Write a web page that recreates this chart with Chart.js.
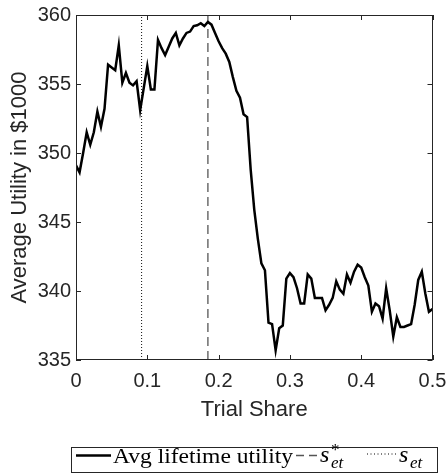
<!DOCTYPE html>
<html><head><meta charset="utf-8">
<script src="https://cdn.jsdelivr.net/npm/chart.js@4"></script>
<style>html,body{margin:0;padding:0;background:#fff;}#wrap{width:446px;height:474px;}</style>
</head><body><div id="wrap"><canvas id="c" width="446" height="474"></canvas></div>
<script>
const trialShare = [0,0.005,0.01,0.015,0.02,0.025,0.03,0.035,0.04,0.045,
 0.05,0.055,0.06,0.065,0.07,0.075,0.08,0.085,0.09,0.095,
 0.1,0.105,0.11,0.115,0.12,0.125,0.13,0.135,0.14,0.145,
 0.15,0.155,0.16,0.165,0.17,0.175,0.18,0.185,0.19,0.195,
 0.2,0.205,0.21,0.215,0.22,0.225,0.23,0.235,0.24,0.245,
 0.25,0.255,0.26,0.265,0.27,0.275,0.28,0.285,0.29,0.295,
 0.3,0.305,0.31,0.315,0.32,0.325,0.33,0.335,0.34,0.345,
 0.35,0.355,0.36,0.365,0.37,0.375,0.38,0.385,0.39,0.395,
 0.4,0.405,0.41,0.415,0.42,0.425,0.43,0.435,0.44,0.445,
 0.45,0.455,0.46,0.465,0.47,0.475,0.48,0.485,0.49,0.495,0.5];
const avgUtility = [349.1,348.6,350.0,351.5,350.6,351.5,353.0,351.9,353.2,356.4,
 356.2,356.0,357.8,355.1,355.8,355.1,354.9,355.2,353.1,354.7,
 356.3,354.6,354.6,358.2,357.6,357.1,357.7,358.3,358.7,357.8,
 358.3,358.7,358.8,359.2,359.25,359.4,359.2,359.5,359.3,358.7,
 358.1,357.6,357.2,356.6,355.5,354.5,354.0,352.8,352.6,348.8,
 345.9,343.8,342.0,341.5,337.7,337.6,335.7,337.3,337.5,340.9,
 341.3,341.0,340.2,339.1,339.1,341.2,340.9,339.5,339.5,339.5,
 338.6,339.0,339.5,340.7,340.1,339.8,341.2,340.6,341.4,341.9,
 341.7,341.0,340.4,338.5,339.1,338.9,338.0,340.2,338.6,336.7,
 338.1,337.4,337.4,337.5,337.6,339.0,340.8,341.4,339.8,338.5,338.7];
const sStarEt = 0.185;
const sEt = 0.092;
const xTickValues = [0,0.1,0.2,0.3,0.4,0.5];
const xTickLabels = ['0','0.1','0.2','0.3','0.4','0.5'];
const yTickValues = [335,340,345,350,355,360];
const yTickLabels = ['335','340','345','350','355','360'];
const xTitle = 'Trial Share';
const yTitle = 'Average Utility in $1000';
const legendMain = 'Avg lifetime utility';

const AX = '#262626';
const mainPts = trialShare.map((x,i)=>({x:x,y:avgUtility[i]}));
const yMin = yTickValues[0], yMax = yTickValues[yTickValues.length-1];

const boxTicks = {
  id:'boxTicks',
  afterDatasetsDraw(chart){
    const {ctx, chartArea:a, scales:{x,y}} = chart;
    ctx.save();
    ctx.strokeStyle = AX; ctx.lineWidth = 1;
    ctx.strokeRect(Math.round(a.left)+0.5, Math.round(a.top)+0.5, Math.round(a.right-a.left)-1, Math.round(a.bottom-a.top)-1);
    const L=5;
    ctx.beginPath();
    xTickValues.forEach(v=>{const p=Math.round(x.getPixelForValue(v))+0.5;
      ctx.moveTo(p,a.bottom); ctx.lineTo(p,a.bottom-L); ctx.moveTo(p,a.top); ctx.lineTo(p,a.top+L);});
    yTickValues.forEach(v=>{const p=Math.round(y.getPixelForValue(v))+0.5;
      ctx.moveTo(a.left,p); ctx.lineTo(a.left+L,p); ctx.moveTo(a.right,p); ctx.lineTo(a.right-L,p);});
    ctx.stroke();
    ctx.restore();
  },
  afterDraw(chart){
    const ctx = chart.ctx;
    ctx.save();
    const bx=71, by=447, bw=366, bh=25;
    ctx.fillStyle='#fff'; ctx.fillRect(bx,by,bw,bh);
    ctx.strokeStyle=AX; ctx.lineWidth=1; ctx.strokeRect(bx+0.5,by+0.5,bw,bh);
    const ly=455.5;
    ctx.strokeStyle='#000'; ctx.lineWidth=2.4;
    ctx.beginPath(); ctx.moveTo(76,ly); ctx.lineTo(111,ly); ctx.stroke();
    ctx.fillStyle='#000'; ctx.textBaseline='alphabetic';
    ctx.font='22px "Liberation Serif"';
    const w = ctx.measureText(legendMain).width;
    ctx.save(); ctx.translate(113,463); ctx.scale(180/w,1); ctx.fillText(legendMain,0,0); ctx.restore();
    ctx.strokeStyle='#555'; ctx.lineWidth=1.3; ctx.setLineDash([8,5]);
    ctx.beginPath(); ctx.moveTo(296,ly); ctx.lineTo(317,ly); ctx.stroke();
    ctx.font='italic 24px "Liberation Serif"';
    ctx.fillText('s',320,462);
    ctx.font='17px "Liberation Serif"';
    ctx.fillText('*',331,455);
    ctx.font='italic 17px "Liberation Serif"';
    ctx.fillText('et',331,468);
    ctx.strokeStyle='#000'; ctx.lineWidth=1; ctx.setLineDash([1,2.5]);
    ctx.beginPath(); ctx.moveTo(367,ly-1.5); ctx.lineTo(396,ly-1.5); ctx.stroke();
    ctx.setLineDash([]);
    ctx.font='italic 24px "Liberation Serif"';
    ctx.fillText('s',399,462);
    ctx.font='italic 17px "Liberation Serif"';
    ctx.fillText('et',410,468);
    ctx.restore();
  }
};

new Chart(document.getElementById('c'), {
  type:'line',
  data:{datasets:[
    {data:mainPts, borderColor:'#000', borderWidth:2.5, pointRadius:0, tension:0, fill:false},
    {data:[{x:sStarEt,y:yMin},{x:sStarEt,y:yMax}], borderColor:'#555', borderWidth:1.3, borderDash:[9,5], pointRadius:0},
    {data:[{x:sEt,y:yMin},{x:sEt,y:yMax}], borderColor:'#111', borderWidth:1, borderDash:[1,2], pointRadius:0}
  ]},
  options:{
    responsive:false, animation:false, devicePixelRatio:1,
    layout:{padding:{left:0,top:15,right:13.5,bottom:51.3}},
    plugins:{legend:{display:false}, tooltip:{enabled:false}},
    scales:{
      x:{type:'linear', min:0, max:0.5,
        afterBuildTicks:s=>{s.ticks = xTickValues.map(v=>({value:v}));},
        afterFit:s=>{s.height=62.7; s.paddingLeft=0; s.paddingRight=0;},
        grid:{display:false, drawTicks:false, tickLength:0}, border:{display:false},
        ticks:{autoSkip:false, maxRotation:0, padding:9, color:AX, font:{family:'"Liberation Sans"', size:20},
          callback:(v)=>{const i=xTickValues.indexOf(v); return i>=0?xTickLabels[i]:'';}},
        title:{display:true, text:xTitle, color:AX, padding:0, font:{family:'"Liberation Sans"', size:22}}
      },
      y:{type:'linear', min:yMin, max:yMax,
        afterBuildTicks:s=>{s.ticks = yTickValues.map(v=>({value:v}));},
        afterFit:s=>{s.width=76; s.paddingTop=0; s.paddingBottom=0;},
        grid:{display:false, drawTicks:false, tickLength:0}, border:{display:false},
        ticks:{autoSkip:false, padding:5, color:AX, font:{family:'"Liberation Sans"', size:20},
          callback:(v)=>{const i=yTickValues.indexOf(v); return i>=0?yTickLabels[i]:'';}},
        title:{display:true, text:yTitle, color:AX, padding:{top:7,bottom:0}, font:{family:'"Liberation Sans"', size:22}}
      }
    }
  },
  plugins:[boxTicks]
});
</script></body></html>
